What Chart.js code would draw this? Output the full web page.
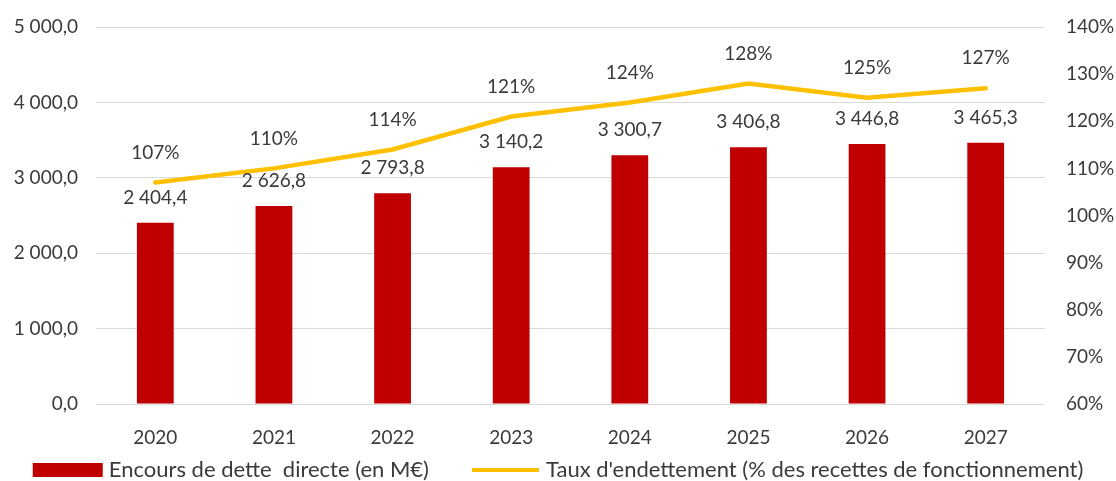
<!DOCTYPE html>
<html>
<head>
<meta charset="utf-8">
<script src="https://cdn.jsdelivr.net/npm/chart.js@4.4.1/dist/chart.umd.min.js"></script>
<style>
  html, body { margin: 0; padding: 0; background: #fff; }
  #wrap { width: 1116px; height: 481px; }
</style>
</head>
<body>
<div id="wrap"><canvas id="detteChart"></canvas></div>
<script>
const years = ['2020', '2021', '2022', '2023', '2024', '2025', '2026', '2027'];
const encoursDette = [2404.4, 2626.8, 2793.8, 3140.2, 3300.7, 3406.8, 3446.8, 3465.3];
const tauxEndettement = [107, 110, 114, 121, 124, 128, 125, 127];
const leftTicks = [0, 1000, 2000, 3000, 4000, 5000];
const rightTicks = [60, 70, 80, 90, 100, 110, 120, 130, 140];

const FONT = 'Lato';
const TEXT = '#3A3A3A';

// "3 465,3" style
function formatFr(v, decimals) {
    const parts = v.toFixed(decimals).split('.');
    const intPart = parts[0].replace(/\B(?=(\d{3})+(?!\d))/g, ' ');
    return parts.length > 1 ? intPart + ',' + parts[1] : intPart;
}

const valueLabels = {
    id: 'valueLabels',
    afterDatasetsDraw(chart) {
        const ctx = chart.ctx;
        ctx.save();
        ctx.font = '19px ' + FONT;
        ctx.fillStyle = TEXT;
        ctx.textAlign = 'center';
        ctx.textBaseline = 'middle';
        chart.getDatasetMeta(0).data.forEach((bar, i) => {
            ctx.fillText(formatFr(encoursDette[i], 1), bar.x, bar.y - 25);
        });
        chart.getDatasetMeta(1).data.forEach((pt, i) => {
            ctx.fillText(tauxEndettement[i] + '%', pt.x, pt.y - 30);
        });
        ctx.restore();
    }
};

// legend drawn by hand so the spacing matches the Excel one
const bottomLegend = {
    id: 'bottomLegend',
    afterDraw(chart) {
        const ctx = chart.ctx;
        const ds = chart.data.datasets;
        ctx.save();
        ctx.font = '22px ' + FONT;
        ctx.textBaseline = 'middle';
        ctx.textAlign = 'left';
        const w1 = ctx.measureText(ds[0].label).width;
        const w2 = ctx.measureText(ds[1].label).width;
        const total = 70 + 6 + w1 + 43 + 67 + 7 + w2;
        let x = (chart.width - total) / 2;
        const y = 470;
        ctx.fillStyle = ds[0].backgroundColor;
        ctx.fillRect(x, y - 7, 70, 14);
        x += 76;
        ctx.fillStyle = TEXT;
        ctx.fillText(ds[0].label, x, y);
        x += w1 + 43;
        ctx.strokeStyle = ds[1].borderColor;
        ctx.lineWidth = 4;
        ctx.beginPath();
        ctx.moveTo(x, y);
        ctx.lineTo(x + 67, y);
        ctx.stroke();
        x += 74;
        ctx.fillText(ds[1].label, x, y);
        ctx.restore();
    }
};

const ctx = document.getElementById('detteChart').getContext('2d');
new Chart(ctx, {
    data: {
        labels: years,
        datasets: [{
            type: 'bar',
            label: 'Encours de dette  directe (en M€)',
            data: encoursDette,
            backgroundColor: '#C00000',
            borderWidth: 0,
            yAxisID: 'y',
            categoryPercentage: 1,
            barPercentage: 0.31,
            order: 2
        }, {
            type: 'line',
            label: "Taux d'endettement (% des recettes de fonctionnement)",
            data: tauxEndettement,
            borderColor: '#FFC000',
            backgroundColor: '#FFC000',
            borderWidth: 4.5,
            borderCapStyle: 'round',
            pointRadius: 0,
            tension: 0,
            yAxisID: 'y1',
            order: 1
        }]
    },
    options: {
        responsive: true,
        maintainAspectRatio: false,
        animation: false,
        layout: { padding: { top: 27, left: 0, right: 0, bottom: 27 } },
        plugins: {
            tooltip: { enabled: false },
            legend: { display: false }
        },
        scales: {
            x: {
                grid: { display: false, drawTicks: false },
                border: { display: false },
                ticks: { color: TEXT, font: { family: FONT, size: 19 }, padding: 22 },
                afterFit(scale) { scale.height = 50; }
            },
            y: {
                position: 'left',
                min: 0,
                max: 5000,
                afterBuildTicks(scale) { scale.ticks = leftTicks.map(v => ({ value: v })); },
                grid: { color: '#D9D9D9', drawTicks: false, lineWidth: 1 },
                border: { display: false },
                ticks: {
                    color: TEXT,
                    font: { family: FONT, size: 19, lineHeight: 0.6 },
                    padding: 18,
                    callback: v => formatFr(v, 1)
                },
                afterFit(scale) { scale.width = 96; }
            },
            y1: {
                position: 'right',
                min: 60,
                max: 140,
                afterBuildTicks(scale) { scale.ticks = rightTicks.map(v => ({ value: v })); },
                grid: { drawOnChartArea: false, drawTicks: false },
                border: { display: false },
                ticks: {
                    color: TEXT,
                    font: { family: FONT, size: 19, lineHeight: 0.6 },
                    padding: 21,
                    callback: v => v + '%'
                },
                afterFit(scale) { scale.width = 71; }
            }
        }
    },
    plugins: [valueLabels, bottomLegend]
});
</script>
</body>
</html>
